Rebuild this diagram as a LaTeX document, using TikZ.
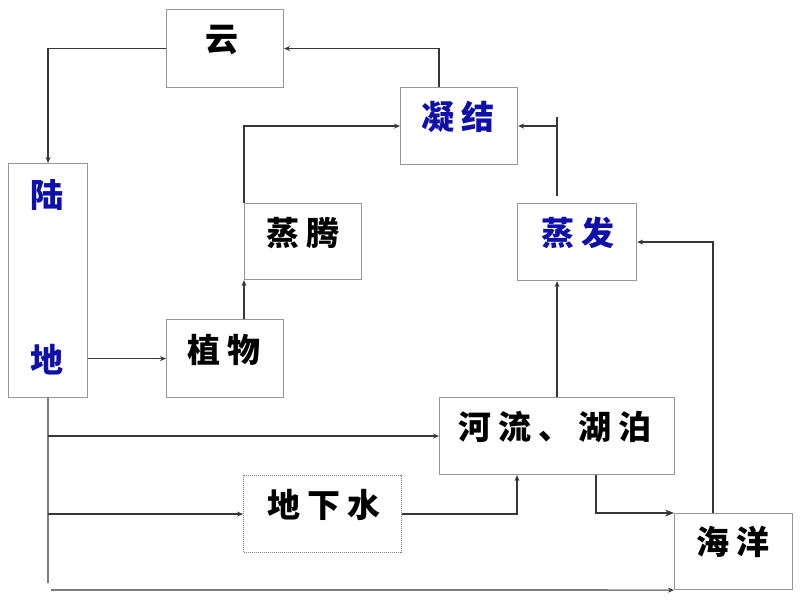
\documentclass[tikz,border=0pt]{standalone}
\usepackage{fontspec}
\newfontfamily\cjk{Noto Sans CJK SC}
\usetikzlibrary{arrows.meta,calc}
\definecolor{boxgray}{RGB}{150,150,150}
\definecolor{linegray}{RGB}{55,55,55}
\definecolor{txtblue}{RGB}{15,15,170}
\newcommand\cg{\hspace{7pt}}
\tikzset{
  box/.style={draw=boxgray, line width=1.1pt, inner sep=0pt, anchor=north west},
  dotbox/.style={box, draw=gray, dash pattern=on 1pt off 1pt},
  lab/.style={inner sep=0pt, font=\cjk\bfseries\fontsize{33pt}{35pt}\selectfont},
  bluelab/.style={lab, text=txtblue},
  conn/.style={draw=linegray, line width=1.2pt, -{Stealth[length=6pt,width=5pt]}},
  plain/.style={draw=linegray, line width=1.2pt},
}
\begin{document}
\begin{tikzpicture}[x=1pt,y=-1pt]
\useasboundingbox (0,0) rectangle (800,600);
% boxes
\node[box, minimum width=117pt, minimum height=78pt] (yun) at (166,9) {};
\node[box, minimum width=117pt, minimum height=77pt] (nj) at (400,87) {};
\node[box, minimum width=79pt, minimum height=234pt] (ludi) at (8,163) {};
\node[box, minimum width=117pt, minimum height=76pt] (zt) at (244,203) {};
\node[box, minimum width=119pt, minimum height=77pt] (zf) at (517,203) {};
\node[box, minimum width=117pt, minimum height=78pt] (zw) at (166,319) {};
\node[box, minimum width=235pt, minimum height=77pt] (hl) at (439,397) {};
\node[dotbox, minimum width=158pt, minimum height=77pt] (dxs) at (243,475) {};
\node[box, minimum width=118pt, minimum height=76pt] (hy) at (674,513) {};
% labels
\node[lab] (yunT) at (222,40) {云};
\node[bluelab] (njT) at (458,117) {凝\cg 结};
\node[bluelab] (luT) at (47,195) {陆};
\node[bluelab] (diT) at (47,360) {地};
\node[lab] (ztT) at (303,233) {蒸\cg 腾};
\node[bluelab] (zfT) at (578,233) {蒸\cg 发};
\node[lab] (zwT) at (224,350) {植\cg 物};
\node[lab] (hlT) at (555,427) {河\cg 流\cg 、\cg 湖\cg 泊};
\node[lab] (dxsT) at (324,505) {地\cg 下\cg 水};
\node[lab] (hyT) at (733,542) {海\cg 洋};
% helper coordinates
\coordinate (zfTop) at (557,196);
\coordinate (zfUp) at (557,117);
\coordinate (ldEnd) at (48,583);
\coordinate (bStart) at (51,590);
% connectors
\draw[conn] ([xshift=39pt]nj.north west) |- (yun.east);
\draw[conn] (yun.west) -| (ludi.north);
\draw[conn] (ludi.east |- zw.west) -- (zw.west);
\draw[conn] (zt.south west |- zw.north) -- (zt.south west);
\draw[conn] (zt.north west) |- (nj.west);
\draw[plain] (zfTop) -- (zfUp);
\draw[conn] (zfTop |- nj.east) -- (nj.east);
\draw[conn] (hl.north) -- (hl.north |- zf.south);
\draw[conn] ([xshift=39pt]hy.north west) |- (zf.east);
\draw[draw=linegray, line width=1.2pt, -{Stealth[length=9pt,width=7pt]}] ([xshift=157pt]hl.south west) |- (hy.north west);
\draw[plain] (ludi.south) -- (ldEnd);
\draw[conn] (ludi.south |- hl.west) -- (hl.west);
\draw[conn] (ludi.south |- dxs.west) -- (dxs.west);
\draw[conn] (dxs.east) -| ([xshift=78pt]hl.south west);
\draw[conn] (bStart) -- (hy.south west);
\end{tikzpicture}
\end{document}
